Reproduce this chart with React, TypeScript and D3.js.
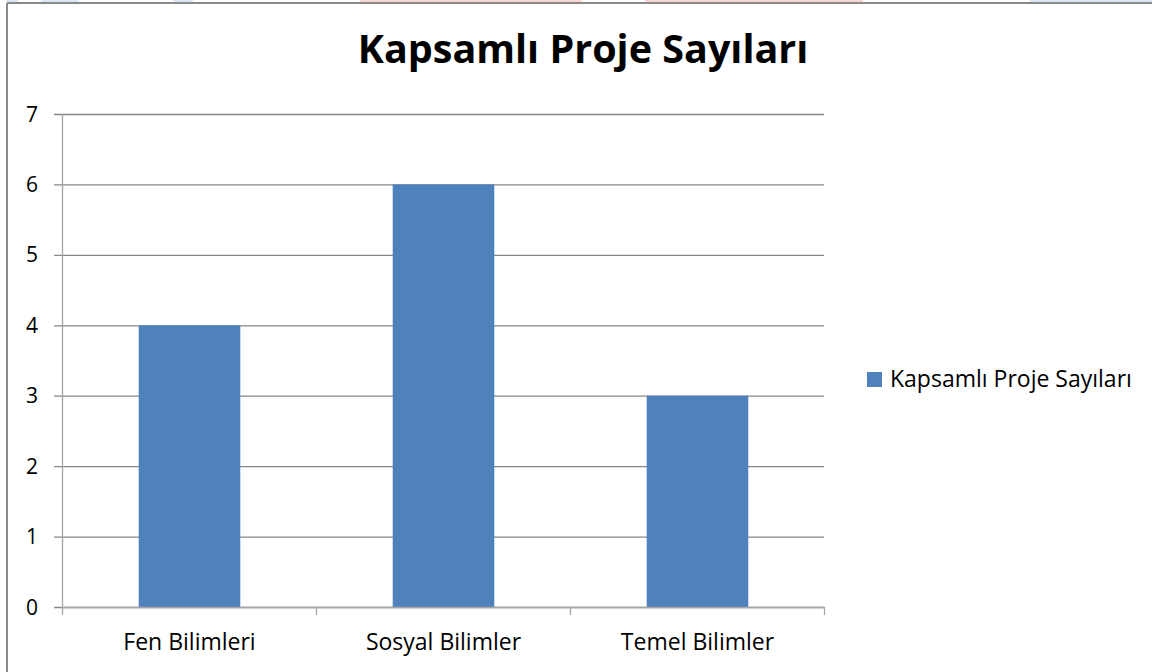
import React from "react";
import * as d3 from "d3";

const categories = ["Fen Bilimleri", "Sosyal Bilimler", "Temel Bilimler"];
const values = [4, 6, 3];
const seriesName = "Kapsamlı Proje Sayıları";
const title = "Kapsamlı Proje Sayıları";
const yTicks = [0, 1, 2, 3, 4, 5, 6, 7];

const W = 1152;
const H = 672;
const FONT = "'Open Sans', 'Noto Sans', sans-serif";

export default function App() {
  const x = d3.scaleBand<string>().domain(categories).range([62, 824]).paddingInner(0).paddingOuter(0);
  const y = d3.scaleLinear().domain([0, 7]).range([607, 114]);
  const barW = x.bandwidth() * 0.4;
  const grid = "#868686";

  const strips = [
    { x0: 6, x1: 18, c: "#dce6f6" },
    { x0: 41, x1: 79, c: "#dce6f6" },
    { x0: 173, x1: 193, c: "#dce6f6" },
    { x0: 360, x1: 582, c: "#fbd6d6" },
    { x0: 645, x1: 863, c: "#fbd6d6" },
    { x0: 1030, x1: 1152, c: "#dce6f6" },
  ];

  return (
    <svg
      width={W}
      height={H}
      style={{ position: "absolute", left: 0, top: 0, background: "#fff" }}
      fontFamily={FONT}
    >
      <rect x={0} y={0} width={W} height={H} fill="#fff" />
      {strips.map((s, i) => (
        <rect key={i} x={s.x0} y={0} width={s.x1 - s.x0} height={2} fill={s.c} />
      ))}
      {/* outer border */}
      <line x1={7} y1={3} x2={W} y2={3} stroke="#8a8a8a" strokeWidth={2} />
      <line x1={7} y1={3} x2={7} y2={H} stroke="#8a8a8a" strokeWidth={2} />

      <text x={583} y={63} textAnchor="middle" fontSize={39.5} fontWeight="bold" fill="#000">
        {title}
      </text>

      {/* gridlines + y ticks */}
      {yTicks.map((t) => (
        <g key={t}>
          <line x1={54} x2={824} y1={y(t) + 0.5} y2={y(t) + 0.5} stroke={grid} strokeWidth={1.3} />
          <text x={38} y={y(t) + 7.5} textAnchor="end" fontSize={21} fill="#000">
            {t}
          </text>
        </g>
      ))}
      {/* y axis */}
      <line x1={62.5} x2={62.5} y1={y(7)} y2={y(0)} stroke="#a6a6a6" strokeWidth={1.3} />

      {/* bars */}
      {categories.map((c, i) => (
        <rect
          key={c}
          x={(x(c) as number) + (x.bandwidth() - barW) / 2 + 0.5}
          y={y(values[i])}
          width={barW}
          height={y(0) - y(values[i])}
          fill="#4f81bd"
        />
      ))}

      {/* x axis */}
      <line x1={62} x2={824.5} y1={y(0) + 0.5} y2={y(0) + 0.5} stroke="#a6a6a6" strokeWidth={1.3} />
      {[...categories.map((c) => x(c) as number), 824].map((v, i) => (
        <line key={i} x1={v + 0.5} x2={v + 0.5} y1={y(0)} y2={y(0) + 8} stroke="#a6a6a6" strokeWidth={1.3} />
      ))}
      {categories.map((c) => (
        <text
          key={c}
          x={(x(c) as number) + x.bandwidth() / 2 + 0.5}
          y={650}
          textAnchor="middle"
          fontSize={23}
          fill="#000"
        >
          {c}
        </text>
      ))}

      {/* legend */}
      <rect x={867} y={372} width={15} height={15} fill="#4f81bd" />
      <text x={890} y={387} fontSize={23} fill="#000">
        {seriesName}
      </text>
    </svg>
  );
}
